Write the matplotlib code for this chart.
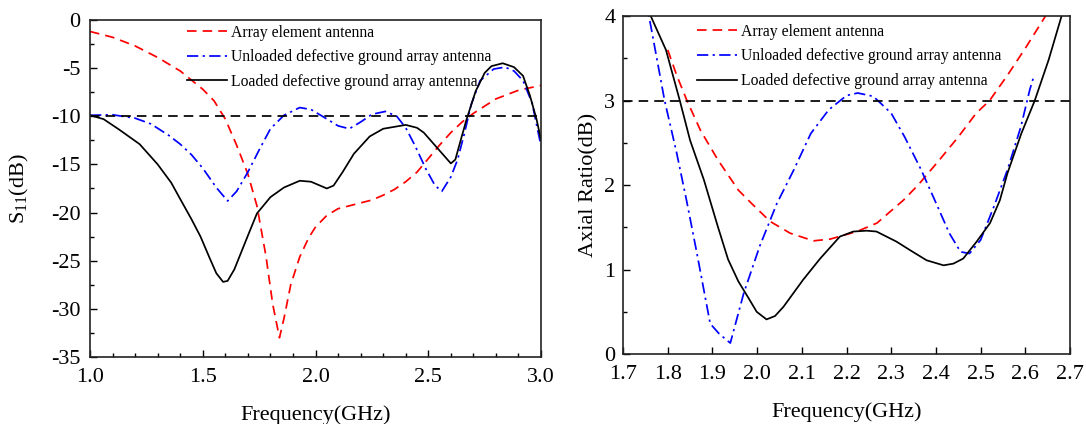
import matplotlib.pyplot as plt
import numpy as np
from matplotlib.ticker import MultipleLocator

plt.rcParams["font.family"] = ["Liberation Serif", "DejaVu Serif"]
plt.rcParams["mathtext.fontset"] = "custom"
plt.rcParams["mathtext.rm"] = "Liberation Serif"

labels = [
    "Array element antenna",
    "Unloaded defective ground array antenna",
    "Loaded defective ground array antenna",
]

# S11 data (GHz, dB)
s11_elem_f = [1.0, 1.1, 1.2, 1.3, 1.4, 1.5, 1.55, 1.6, 1.65, 1.7, 1.74, 1.78, 1.81, 1.84,
              1.86, 1.89, 1.93, 1.97, 2.0, 2.05, 2.1, 2.2, 2.25, 2.3, 2.35, 2.4, 2.45,
              2.5, 2.55, 2.6, 2.65, 2.7, 2.8, 2.9, 3.0]
s11_elem = [-1.2, -1.8, -2.7, -3.9, -5.3, -7.2, -8.4, -10.3, -13.0, -16.0, -19.3, -24.5,
            -29.5, -33.0, -31.0, -27.5, -24.6, -22.6, -21.5, -20.3, -19.6, -19.0, -18.7,
            -18.2, -17.6, -16.8, -15.8, -14.4, -13.0, -11.7, -10.6, -9.7, -8.2, -7.3, -6.8]

s11_unl_f = [1.0, 1.1, 1.2, 1.27, 1.35, 1.4, 1.45, 1.5, 1.56, 1.61, 1.65, 1.7, 1.75, 1.8,
             1.86, 1.93, 1.98, 2.03, 2.1, 2.15, 2.2, 2.25, 2.31, 2.36, 2.4, 2.44, 2.49,
             2.53, 2.56, 2.6, 2.63, 2.66, 2.69, 2.73, 2.79, 2.84, 2.88, 2.92, 2.96, 3.0]
s11_unl = [-9.9, -9.85, -10.2, -10.8, -12.0, -12.9, -14.0, -15.4, -17.4, -18.8, -17.8,
           -15.8, -13.5, -11.3, -9.9, -9.1, -9.3, -10.0, -11.0, -11.3, -10.6, -9.8, -9.5,
           -10.0, -11.2, -13.0, -15.5, -17.2, -17.8, -16.3, -14.5, -11.8, -8.8, -6.3,
           -5.1, -4.9, -5.3, -6.3, -8.6, -13.1]

s11_load_f = [1.0, 1.06, 1.13, 1.22, 1.3, 1.36, 1.4, 1.45, 1.49, 1.53, 1.56, 1.59, 1.61,
              1.64, 1.7, 1.74, 1.8, 1.86, 1.93, 1.98, 2.05, 2.08, 2.12, 2.17, 2.24, 2.3,
              2.4, 2.45, 2.48, 2.54, 2.6, 2.62, 2.64, 2.67, 2.71, 2.75, 2.78, 2.83, 2.88,
              2.92, 2.95, 2.98, 3.0]
s11_load = [-9.9, -10.3, -11.4, -12.9, -15.0, -16.9, -18.6, -20.7, -22.5, -24.7, -26.3,
            -27.2, -27.1, -25.9, -22.4, -20.1, -18.4, -17.4, -16.7, -16.8, -17.5, -17.2,
            -15.8, -13.9, -12.1, -11.3, -10.9, -11.2, -11.7, -13.3, -14.9, -14.5, -12.8,
            -10.3, -7.4, -5.5, -4.8, -4.5, -4.9, -5.8, -7.8, -10.3, -12.5]

# Axial ratio data (GHz, dB)
ar_elem_f = [1.80, 1.82, 1.843, 1.873, 1.912, 1.958, 1.988, 2.029, 2.074, 2.126, 2.163,
             2.223, 2.268, 2.327, 2.36, 2.405, 2.45, 2.49, 2.52, 2.56, 2.60, 2.645]
ar_elem = [3.6, 3.3, 3.0, 2.65, 2.30, 1.94, 1.78, 1.57, 1.43, 1.34, 1.36, 1.45, 1.55,
           1.82, 2.0, 2.28, 2.57, 2.85, 3.0, 3.3, 3.62, 4.0]

ar_unl_f = [1.75, 1.758, 1.793, 1.82, 1.842, 1.865, 1.895, 1.915, 1.94, 1.97, 2.006,
            2.044, 2.082, 2.12, 2.16, 2.20, 2.225, 2.26, 2.30, 2.33, 2.367, 2.40, 2.43,
            2.455, 2.475, 2.50, 2.53, 2.56, 2.59, 2.61, 2.618]
ar_unl = [4.3, 4.0, 3.0, 2.38, 1.82, 1.2, 0.36, 0.24, 0.13, 0.72, 1.28, 1.78, 2.18,
          2.61, 2.89, 3.06, 3.09, 3.05, 2.85, 2.57, 2.18, 1.79, 1.43, 1.21, 1.19, 1.35,
          1.75, 2.18, 2.69, 3.13, 3.27]

ar_load_f = [1.762, 1.796, 1.827, 1.850, 1.881, 1.912, 1.935, 1.958, 1.981, 1.999, 2.021,
             2.040, 2.059, 2.103, 2.141, 2.185, 2.215, 2.245, 2.267, 2.312, 2.342, 2.379,
             2.417, 2.439, 2.461, 2.491, 2.521, 2.543, 2.560, 2.591, 2.621, 2.652, 2.681]
ar_load = [4.0, 3.6, 3.0, 2.53, 2.06, 1.51, 1.12, 0.86, 0.66, 0.50, 0.41, 0.45, 0.56,
           0.88, 1.13, 1.39, 1.45, 1.46, 1.45, 1.33, 1.23, 1.11, 1.05, 1.07, 1.13, 1.33,
           1.55, 1.82, 2.14, 2.61, 3.0, 3.48, 4.0]

fig = plt.figure(figsize=(10.86, 4.24), dpi=100)
ax1 = fig.add_axes([0.0829, 0.158, 0.4153, 0.795])
ax2 = fig.add_axes([0.5737, 0.165, 0.4116, 0.797])

lw = 1.25
red_dash = (0, (5.5, 3.5))
blue_dd = (0, (6.5, 2.5, 1.3, 2.5))

ax1.plot(s11_elem_f, s11_elem, color="red", linestyle=red_dash, lw=lw, label=labels[0])
ax1.plot(s11_unl_f, s11_unl, color="blue", linestyle=blue_dd, lw=lw, label=labels[1])
ax1.plot(s11_load_f, s11_load, color="black", linestyle="-", lw=lw, label=labels[2])
ax1.axhline(-10, color="black", linestyle=(0, (5.5, 3.5)), lw=lw)
ax1.set_xlim(1.0, 3.0)
ax1.set_ylim(-35, 0)
ax1.xaxis.set_major_locator(MultipleLocator(0.5))
ax1.xaxis.set_minor_locator(MultipleLocator(0.1))
ax1.yaxis.set_major_locator(MultipleLocator(5))
ax1.yaxis.set_minor_locator(MultipleLocator(2.5))
ax1.xaxis.set_major_formatter(plt.FuncFormatter(lambda v, p: f"{v:.1f}"))
ax1.yaxis.set_major_formatter(plt.FuncFormatter(lambda v, p: f"{v:g}"))
ax1.set_xlabel("Frequency(GHz)", fontsize=16, labelpad=13)
ax1.set_ylabel("S$_{\\mathregular{11}}$(dB)", fontsize=16)
ax1.yaxis.set_label_coords(-0.13, 0.5)
ax1.tick_params(axis="y", which="major", pad=7)
ax1.legend(loc="upper left", bbox_to_anchor=(0.195, 1.014), frameon=False, fontsize=11.3,
           handlelength=2.5, handletextpad=0.3, labelspacing=0.55, borderaxespad=0.2)

ax2.plot(ar_elem_f, ar_elem, color="red", linestyle=red_dash, lw=lw, label=labels[0])
ax2.plot(ar_unl_f, ar_unl, color="blue", linestyle=blue_dd, lw=lw, label=labels[1])
ax2.plot(ar_load_f, ar_load, color="black", linestyle="-", lw=lw, label=labels[2])
ax2.axhline(3, color="black", linestyle=(0, (5.5, 3.5)), lw=lw)
ax2.set_xlim(1.7, 2.7)
ax2.set_ylim(0, 4)
ax2.xaxis.set_major_locator(MultipleLocator(0.1))
ax2.yaxis.set_major_locator(MultipleLocator(1))
ax2.yaxis.set_minor_locator(MultipleLocator(0.5))
ax2.xaxis.set_major_formatter(plt.FuncFormatter(lambda v, p: f"{v:.1f}"))
ax2.set_xlabel("Frequency(GHz)", fontsize=16, labelpad=13)
ax2.set_ylabel("Axial Ratio(dB)", fontsize=16)
ax2.tick_params(axis="y", which="major", pad=5.5)
ax2.legend(loc="upper left", bbox_to_anchor=(0.145, 1.005), frameon=False, fontsize=11.3,
           handlelength=2.5, handletextpad=0.3, labelspacing=0.55, borderaxespad=0.2)

for ax in (ax1, ax2):
    ax.tick_params(which="both", direction="in", labelsize=16, width=1)
    ax.tick_params(axis="x", which="major", pad=8)
    ax.tick_params(which="major", length=5)
    ax.tick_params(which="minor", length=2.7)
    for s in ax.spines.values():
        s.set_linewidth(1.2)
        s.set_color("#222222")

fig.savefig("out.png", dpi=100)
